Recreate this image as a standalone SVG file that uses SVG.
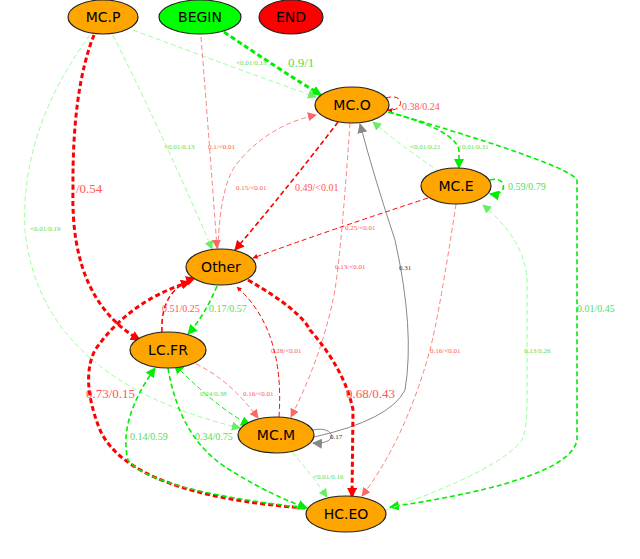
<svg xmlns="http://www.w3.org/2000/svg" width="640" height="559" viewBox="0 0 640 559">
<style>
.n ellipse{stroke:#222;stroke-width:1.2}
.n text{font-family:"DejaVu Sans",sans-serif;font-size:14px;text-anchor:middle;dominant-baseline:central;fill:#000}
.e path{fill:none;stroke-dasharray:5,3}
.r{stroke:#f00}.rl{stroke:#ff8080}.g{stroke:#0e0}.gl{stroke:#9f9}
.k{stroke:#888;stroke-dasharray:none!important}
.w1{stroke-width:1}.w2{stroke-width:1.6}.w3{stroke-width:3}
.l{font-family:"Liberation Serif",serif}
.lr{fill:#f55}.lg{fill:#5d5}.lk{fill:#333}
.s{font-size:7px}.m{font-size:10px}.b{font-size:13px}
</style>
<defs>
<marker id="ar" viewBox="0 0 10 10" refX="9" refY="5" markerWidth="5" markerHeight="5" markerUnits="userSpaceOnUse" orient="auto"><path d="M0,0L10,5L0,10z" fill="#f00"/></marker>
<marker id="ar2" viewBox="0 0 10 10" refX="9" refY="5" markerWidth="10" markerHeight="10" markerUnits="userSpaceOnUse" orient="auto"><path d="M0,0L10,5L0,10z" fill="#f00"/></marker>
<marker id="arl" viewBox="0 0 10 10" refX="9" refY="5" markerWidth="9" markerHeight="9" markerUnits="userSpaceOnUse" orient="auto"><path d="M0,0L10,5L0,10z" fill="#f66"/></marker>
<marker id="ag" viewBox="0 0 10 10" refX="9" refY="5" markerWidth="10" markerHeight="10" markerUnits="userSpaceOnUse" orient="auto"><path d="M0,0L10,5L0,10z" fill="#0e0"/></marker>
<marker id="agl" viewBox="0 0 10 10" refX="9" refY="5" markerWidth="9" markerHeight="9" markerUnits="userSpaceOnUse" orient="auto"><path d="M0,0L10,5L0,10z" fill="#6e6"/></marker>
<marker id="ags" viewBox="0 0 10 10" refX="1" refY="5" markerWidth="10" markerHeight="10" markerUnits="userSpaceOnUse" orient="auto-start-reverse"><path d="M0,0L10,5L0,10z" fill="#0e0"/></marker>
<marker id="ak" viewBox="0 0 10 10" refX="9" refY="5" markerWidth="10" markerHeight="10" markerUnits="userSpaceOnUse" orient="auto"><path d="M0,0L10,5L0,10z" fill="#888"/></marker>
</defs>
<rect width="640" height="559" fill="#fff"/>
<g id="edges" class="e">
<path class="g w3" d="M224,32 Q280,70 321,95" marker-end="url(#ag)"/>
<path class="gl w1" d="M133,30 Q240,70 316,97" marker-end="url(#agl)"/>
<path class="gl w1" d="M113,35 Q170,150 212,249" marker-end="url(#agl)"/>
<path class="gl w1" d="M90,35 Q20,130 25,230 Q40,380 240,428" marker-end="url(#agl)"/>
<path class="r w3" d="M94,35 Q72,90 73,190 Q70,300 140,340" marker-end="url(#ar2)"/>
<path class="rl w1" d="M201,37 Q210,150 217,248" marker-end="url(#arl)"/>
<path class="rl w1" d="M218,249 Q220,180 240,160 Q270,125 316,115" marker-end="url(#arl)"/>
<path class="r w2" d="M338,122 Q290,185 235,250" marker-end="url(#ar2)"/>
<path class="r w1" d="M386,98 C405,92 405,112 388,110" marker-end="url(#ar)"/>
<path class="g w2" d="M388,112 Q455,130 459,150 L459,168" marker-end="url(#ag)"/>
<path class="gl w1" d="M440,172 Q400,145 373,122" marker-end="url(#agl)"/>
<path class="g w2" d="M389,112 Q570,165 577,180 L577,440 Q570,480 390,507" marker-end="url(#ag)"/>
<path class="g w2" d="M490,180 C508,175 508,197 490,194" marker-end="url(#ag)"/>
<path class="r w1" d="M428,198 Q330,230 253,258" marker-end="url(#ar)"/>
<path class="rl w1" d="M350,123 Q340,270 333,300 Q320,360 291,417" marker-end="url(#arl)"/>
<path class="k w1" d="M314,437 Q390,420 405,390 Q415,330 395,240 Q375,180 360,124" marker-end="url(#ak)"/>
<path class="k w1" d="M313,430 C335,425 340,445 313,443" marker-end="url(#ak)"/>
<path class="rl w1" d="M456,204 Q440,310 430,350 Q405,440 362,496" marker-end="url(#arl)"/>
<path class="gl w1" d="M386,510 Q500,470 522,440 Q527,430 527,400 L527,280 Q525,240 483,205" marker-end="url(#agl)"/>
<path class="r w3" d="M248,280 Q300,310 310,330 Q345,370 353,410 L352,497" marker-end="url(#ar2)"/>
<path class="r w1" d="M279,417 Q285,330 237,287" marker-end="url(#ar)"/>
<path class="r w2" d="M162,332 Q160,290 195,278" marker-end="url(#ar2)"/>
<path class="g w2" d="M217,286 Q205,315 188,334" marker-end="url(#ag)"/>
<path class="rl w1" d="M196,364 Q230,380 258,418" marker-end="url(#arl)"/>
<path class="g w1" d="M180,370 Q220,410 250,425" marker-start="url(#ags)" marker-end="url(#ag)"/>
<path class="r w3" d="M305,508 Q130,495 100,430 Q80,380 95,350 Q130,300 190,282" marker-end="url(#ar2)"/>
<path class="g w2" d="M306,508 Q150,490 128,460 Q118,420 155,368" marker-end="url(#ag)"/>
<path class="g w2" d="M168,368 Q180,440 230,470 Q270,495 307,508" marker-end="url(#ag)"/>
<path class="gl w1" d="M292,452 Q312,475 327,497" marker-end="url(#agl)"/>
</g>
<g id="labels" class="l">
<text class="lg b" x="288" y="67">0.9/1</text>
<text class="lg s" x="236" y="65">&lt;0.01/0.13</text>
<text class="lg s" x="164" y="149">&lt;0.01/0.13</text>
<text class="lr s" x="208" y="149">0.1/&lt;0.01</text>
<text class="lg s" x="30" y="231">&lt;0.01/0.19</text>
<text class="lr b" x="76" y="193">/0.54</text>
<text class="lr s" x="236" y="190">0.15/&lt;0.01</text>
<text class="lr m" x="295" y="191">0.49/&lt;0.01</text>
<text class="lr m" x="402" y="110">0.38/0.24</text>
<text class="lg s" x="410" y="149">&lt;0.01/0.21</text>
<text class="lg s" x="458" y="149">&lt;0.01/0.31</text>
<text class="lg m" x="508" y="190">0.59/0.79</text>
<text class="lr s" x="345" y="230">0.25/&lt;0.01</text>
<text class="lr s" x="335" y="269">0.13/&lt;0.01</text>
<text class="lk s" x="399" y="270">0.31</text>
<text class="lg m" x="577" y="312">0.01/0.45</text>
<text class="lr s" x="430" y="353">0.16/&lt;0.01</text>
<text class="lg s" x="524" y="353">0.13/0.26</text>
<text class="lr m" x="162" y="312">0.51/0.25</text>
<text class="lg m" x="209" y="312">0.17/0.57</text>
<text class="lr s" x="271" y="353">0.28/&lt;0.01</text>
<text class="lr b" x="86" y="398">0.73/0.15</text>
<text class="lg s" x="200" y="396">0.24/0.38</text>
<text class="lr s" x="243" y="396">0.16/&lt;0.01</text>
<text class="lr b" x="346" y="398">0.68/0.43</text>
<text class="lk s" x="330" y="439">0.17</text>
<text class="lg m" x="130" y="440">0.14/0.59</text>
<text class="lg m" x="195" y="440">0.34/0.75</text>
<text class="lg s" x="313" y="479">&lt;0.01/0.16</text>
</g>
<g id="MC.P" class="n"><ellipse cx="103" cy="17" rx="35" ry="17" fill="#ffa500"/><text x="103" y="17">MC.P</text></g>
<g id="BEGIN" class="n"><ellipse cx="200" cy="17" rx="41" ry="17" fill="#00ff00"/><text x="200" y="17">BEGIN</text></g>
<g id="END" class="n"><ellipse cx="291" cy="17" rx="32" ry="17" fill="#ff0000"/><text x="291" y="17">END</text></g>
<g id="MC.O" class="n"><ellipse cx="352" cy="105" rx="37" ry="18" fill="#ffa500"/><text x="352" y="105">MC.O</text></g>
<g id="MC.E" class="n"><ellipse cx="456" cy="186" rx="35" ry="18" fill="#ffa500"/><text x="456" y="186">MC.E</text></g>
<g id="Other" class="n"><ellipse cx="221" cy="267" rx="35" ry="18" fill="#ffa500"/><text x="221" y="267">Other</text></g>
<g id="LC.FR" class="n"><ellipse cx="168" cy="350" rx="38" ry="18" fill="#ffa500"/><text x="168" y="350">LC.FR</text></g>
<g id="MC.M" class="n"><ellipse cx="276" cy="435" rx="38" ry="18" fill="#ffa500"/><text x="276" y="435">MC.M</text></g>
<g id="HC.EO" class="n"><ellipse cx="346" cy="514" rx="40" ry="18" fill="#ffa500"/><text x="346" y="514">HC.EO</text></g>
</svg>
